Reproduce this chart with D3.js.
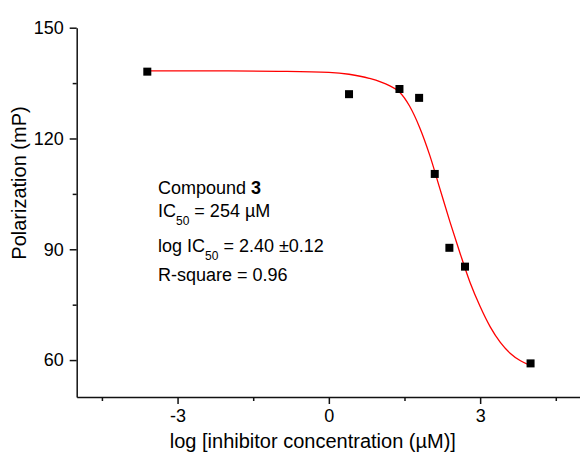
<!DOCTYPE html>
<html>
<head>
<meta charset="utf-8">
<script src="https://cdn.jsdelivr.net/npm/d3@7"></script>
<style>
  body { margin: 0; background: #fff; }
  svg text { font-family: "Liberation Sans", Arial, sans-serif; fill: #000; }
</style>
</head>
<body>
<div id="chart"></div>
<script>
// measured points: log concentration vs polarization
var logConc = [-3.6, 0.4, 1.4, 1.79, 2.1, 2.39, 2.7, 4.0];
var polarization = [138.1, 132.0, 133.4, 131.0, 110.4, 90.4, 85.3, 59.1];

// fitted dose-response curve
var fitX = [-3.6, -2, -1, 0, 0.4, 0.8, 1.2, 1.4, 1.6, 1.8, 2.0, 2.2, 2.4, 2.6, 2.8, 3.0, 3.2, 3.4, 3.6, 3.8, 4.0];
var fitY = [138.3, 138.3, 138.2, 137.9, 137.4, 136.3, 134.3, 132.6, 128.8, 123.0, 115.5, 106.5, 97.5, 89.0, 81.0, 74.5, 69.0, 64.8, 61.8, 59.8, 58.5];

// ticks
var xMajor = [-3, 0, 3];
var xMinor = [-4.5, -1.5, 1.5, 4.5];
var yMajor = [60, 90, 120, 150];
var yMinor = [75, 105, 135];

var width = 580, height = 455;
var margin = {top: 27.7, right: -1, bottom: 58, left: 76.7};

var svg = d3.select("#chart").append("svg")
    .attr("width", width)
    .attr("height", height);

var x = d3.scaleLinear().domain([-5, 5]).range([margin.left, width - margin.right]);
var y = d3.scaleLinear().domain([50, 150]).range([height - margin.bottom, margin.top]);

// plain hyphen for negatives, like the original
var plain = function(d) { return String(d); };

// y axis
svg.append("g")
    .attr("transform", "translate(" + margin.left + ",0)")
    .call(d3.axisLeft(y).tickValues(yMajor).tickSize(7).tickSizeOuter(0).tickPadding(6).tickFormat(plain));
svg.append("g")
    .attr("transform", "translate(" + margin.left + ",0)")
    .call(d3.axisLeft(y).tickValues(yMinor).tickSize(4).tickSizeOuter(0).tickFormat(""))
    .select(".domain").remove();

// x axis
svg.append("g")
    .attr("transform", "translate(0," + y(50) + ")")
    .call(d3.axisBottom(x).tickValues(xMajor).tickSize(7).tickSizeOuter(0).tickPadding(5).tickFormat(plain));
svg.append("g")
    .attr("transform", "translate(0," + y(50) + ")")
    .call(d3.axisBottom(x).tickValues(xMinor).tickSize(4).tickSizeOuter(0).tickFormat(""))
    .select(".domain").remove();

svg.selectAll(".domain, .tick line")
    .attr("stroke", "#111")
    .attr("stroke-width", 1.5);
svg.selectAll(".tick text")
    .style("font-size", "18px")
    .style("font-family", "'Liberation Sans', Arial, sans-serif")
    .attr("fill", "#000");

// fitted curve
var line = d3.line()
    .x(function(d) { return x(d[0]); })
    .y(function(d) { return y(d[1]); })
    .curve(d3.curveMonotoneX);

svg.append("path")
    .datum(d3.zip(fitX, fitY))
    .attr("d", line)
    .attr("fill", "none")
    .attr("stroke", "#ff0000")
    .attr("stroke-width", 1.3);

// data points
var sq = 8;
svg.selectAll(".pt")
    .data(d3.zip(logConc, polarization))
    .enter().append("rect")
    .attr("class", "pt")
    .attr("x", function(d) { return x(d[0]) - sq / 2; })
    .attr("y", function(d) { return y(d[1]) - sq / 2; })
    .attr("width", sq)
    .attr("height", sq)
    .attr("fill", "#000");

// axis titles
svg.append("text")
    .attr("x", (x(-5) + x(5)) / 2 - 16)
    .attr("y", 448)
    .attr("text-anchor", "middle")
    .style("font-size", "20px")
    .text("log [inhibitor concentration (\u00b5M)]");

svg.append("text")
    .attr("transform", "translate(26," + 183 + ") rotate(-90)")
    .attr("text-anchor", "middle")
    .style("font-size", "20px")
    .text("Polarization (mP)");

// annotation
var ann = svg.append("g").style("font-size", "18px");
var tx = 158;

var t1 = ann.append("text").attr("x", tx).attr("y", 194);
t1.append("tspan").text("Compound ");
t1.append("tspan").attr("font-weight", "bold").text("3");

var t2 = ann.append("text").attr("x", tx).attr("y", 217);
t2.append("tspan").text("IC");
t2.append("tspan").attr("dy", 7.5).style("font-size", "12px").text("50");
t2.append("tspan").attr("dy", -7.5).text(" = 254 \u00b5M");

var t3 = ann.append("text").attr("x", tx).attr("y", 252);
t3.append("tspan").text("log IC");
t3.append("tspan").attr("dy", 7.5).style("font-size", "12px").text("50");
t3.append("tspan").attr("dy", -7.5).text(" = 2.40 \u00b10.12");

ann.append("text").attr("x", tx).attr("y", 281).text("R-square = 0.96");
</script>
</body>
</html>
